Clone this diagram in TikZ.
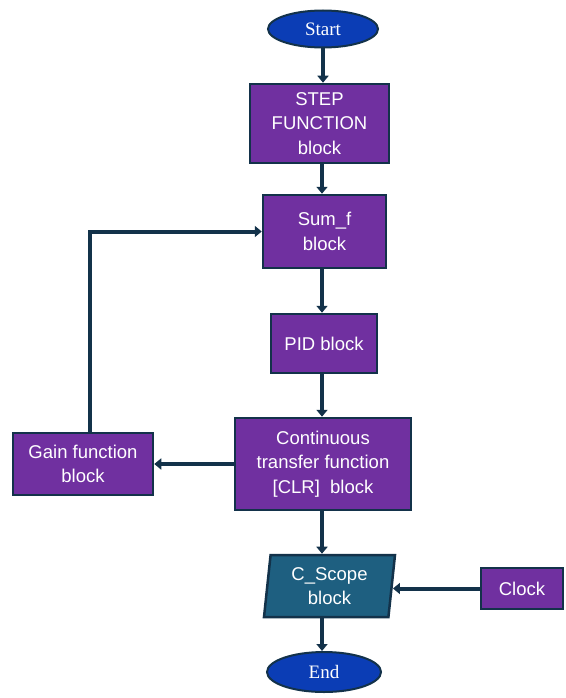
\documentclass[tikz,border=0pt]{standalone}
\usepackage{fontspec}
\setmainfont{Liberation Sans}
\newfontfamily\serifont{Liberation Serif}
\usetikzlibrary{shapes.geometric,arrows.meta}
\definecolor{boxpurple}{HTML}{7030A0}
\definecolor{edgenavy}{HTML}{13324A}
\definecolor{ovalblue}{HTML}{0B3DB5}
\definecolor{scopeteal}{HTML}{1E5F80}
\begin{document}
\begin{tikzpicture}[x=1pt,y=-1pt,
  blockbox/.style={draw=edgenavy,line width=2.5pt,fill=boxpurple,text=white,
    align=center,inner sep=2pt,font=\fontsize{18.5}{24.5}\selectfont},
  ovalbox/.style={ellipse,draw=edgenavy,line width=2pt,fill=ovalblue,text=white,
    inner sep=0pt,font=\serifont\fontsize{19}{22}\selectfont},
  flow/.style={draw=edgenavy,line width=4pt,-{Triangle[width=11pt,length=7pt]}}]
\useasboundingbox (0,0) rectangle (565,698);
\node[ovalbox,minimum width=110pt,minimum height=37pt] (start) at (323,29) {Start};
\node[blockbox,minimum width=139pt,minimum height=79pt] (stepfn) at (319.5,123.5) {STEP\\FUNCTION\\block};
\node[blockbox,minimum width=123pt,minimum height=73pt] (sumf) at (324.5,231.5) {Sum\_f\\block};
\node[blockbox,minimum width=106pt,minimum height=59pt] (pid) at (324,343.5) {PID block};
\node[blockbox,minimum width=176pt,minimum height=92pt] (ctf) at (323,464) {Continuous\\transfer function\\{[CLR]}\ \ block};
\node[blockbox,minimum width=140pt,minimum height=62pt] (gain) at (83,464) {Gain function\\block};
\node[blockbox,trapezium,trapezium left angle=81,trapezium right angle=99,
  trapezium stretches body,fill=scopeteal,minimum width=131pt,minimum height=62pt] (scope) at (329.5,586) {C\_Scope\\block};
\node[blockbox,minimum width=82pt,minimum height=41pt] (clock) at (522,588.5) {Clock};
\node[ovalbox,minimum width=114pt,minimum height=40pt] (finish) at (324,672) {End};
\draw[flow] (start.south) -- (start.south |- stepfn.north);
\draw[flow] ([xshift=2.5pt]stepfn.south) -- ([xshift=2.5pt]stepfn.south |- sumf.north);
\draw[flow] ([xshift=-2.5pt]sumf.south) -- ([xshift=-2.5pt]sumf.south |- pid.north);
\draw[flow] ([xshift=-2pt]pid.south) -- ([xshift=-2pt]pid.south |- ctf.north);
\draw[flow] (ctf.west) -- (gain.east);
\draw[flow] ([xshift=7pt]gain.north) |- (sumf.west);
\draw[flow] ([xshift=-1pt]ctf.south) -- ([xshift=-1pt]ctf.south |- scope.north);
\draw[flow] (clock.west) -- (clock.west -| scope.east);
\draw[flow] ([xshift=-7.5pt]scope.south) -- ([xshift=-7.5pt]scope.south |- finish.north);
\end{tikzpicture}
\end{document}
